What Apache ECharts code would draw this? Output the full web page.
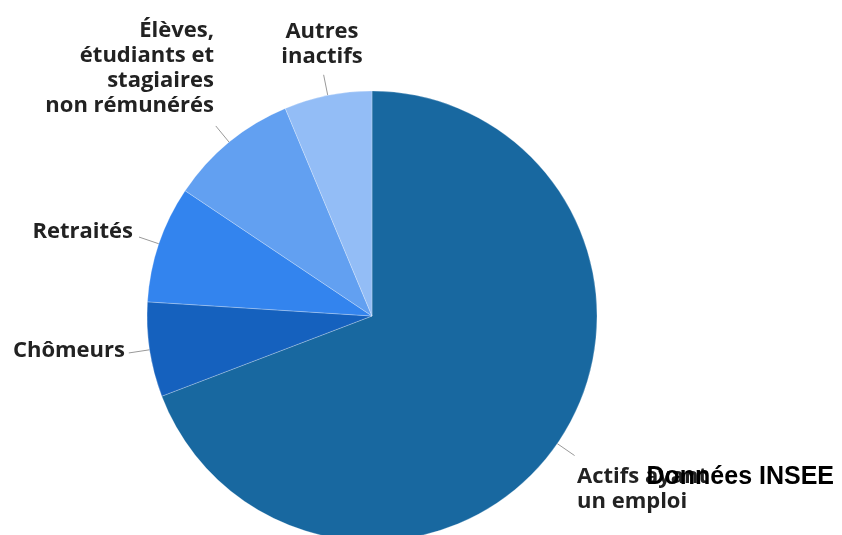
<!DOCTYPE html>
<html>
<head>
<meta charset="utf-8">
<script src="https://cdn.jsdelivr.net/npm/echarts@6/dist/echarts.min.js"></script>
<style>
  html, body { margin: 0; padding: 0; background: #fff; }
  #chart { width: 842px; height: 535px; }
</style>
</head>
<body>
<div id="chart"></div>
<script>
// parts (in %), clockwise from 12 o'clock
const categories = [
  'Actifs ayant\nun emploi',
  'Chômeurs',
  'Retraités',
  'Élèves,\nétudiants et\nstagiaires\nnon rémunérés',
  'Autres\ninactifs'
]
const values = [69.2, 6.8, 8.4, 9.3, 6.3]
const colors = ['#1868a0', '#1561be', '#3384ee', '#62a0f1', '#93bdf6']

// label placement (x, y, align, verticalAlign)
const labelPos = [
  { x: 577, y: 464, align: 'left', verticalAlign: 'top' },
  { x: 125, y: 351, align: 'right', verticalAlign: 'middle' },
  { x: 133, y: 232, align: 'right', verticalAlign: 'middle' },
  { x: 214, y: 68, align: 'right', verticalAlign: 'middle' },
  { x: 322, y: 44, align: 'center', verticalAlign: 'middle' }
]

const chart = echarts.init(document.getElementById('chart'))

chart.setOption({
  animation: false,
  title: {
    text: 'Données INSEE',
    right: 3,
    top: 460,
    textStyle: {
      fontFamily: 'Liberation Sans',
      fontWeight: 'bold',
      fontSize: 25,
      color: '#000'
    }
  },
  series: [{
    type: 'pie',
    center: [372, 316],
    radius: 225,
    startAngle: 90,
    clockwise: true,
    avoidLabelOverlap: false,
    itemStyle: { borderColor: 'rgba(255,255,255,0.5)', borderWidth: 0.5 },
    label: {
      show: true,
      position: 'outside',
      color: '#222',
      fontFamily: 'Open Sans',
      fontWeight: 'bold',
      fontSize: 22,
      lineHeight: 25
    },
    labelLine: {
      show: true,
      length: 21,
      length2: 0,
      lineStyle: { color: '#999', width: 1 }
    },
    // keep the radial guide line, only move the text
    labelLayout: (params) => Object.assign({ labelLinePoints: params.labelLinePoints }, labelPos[params.dataIndex]),
    data: categories.map((name, i) => ({
      name,
      value: values[i],
      itemStyle: { color: colors[i] }
    }))
  }]
})
</script>
</body>
</html>
